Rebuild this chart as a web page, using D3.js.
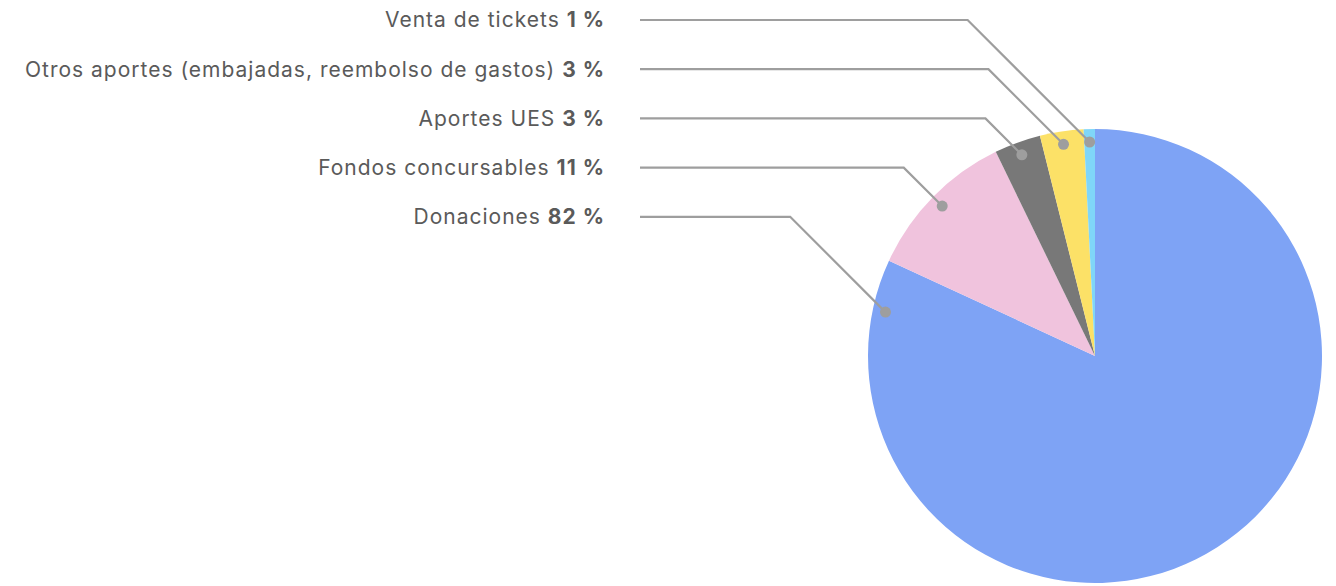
<!DOCTYPE html>
<html>
<head>
<meta charset="utf-8">
<script src="https://cdn.jsdelivr.net/npm/d3@7"></script>
<style>
    body { margin: 0; background: #fff; }
    svg { display: block; }
</style>
</head>
<body>
<div id="chart"></div>
<script>
// data
const categories = ["Donaciones", "Fondos concursables", "Aportes UES", "Otros aportes (embajadas, reembolso de gastos)", "Venta de tickets"];
const values = [81.9, 10.9, 3.3, 3.1, 0.8];
const pctLabels = ["82 %", "11 %", "3 %", "3 %", "1 %"];
const colors = ["#7ea3f5", "#f0c3dd", "#787878", "#fce167", "#7fd6f8"];

const width = 1336, height = 586;
const cx = 1095, cy = 356, radius = 227;

let svg = d3.select("#chart").append("svg")
    .attr("width", width)
    .attr("height", height);

let pie = d3.pie().sort(null).value(d => d.value);
let data = categories.map((c, i) => ({name: c, value: values[i], pct: pctLabels[i], color: colors[i]}));
let arcs = pie(data);

let arc = d3.arc().innerRadius(0).outerRadius(radius);

let g = svg.append("g").attr("transform", `translate(${cx},${cy})`);
g.selectAll("path.slice")
    .data(arcs)
    .join("path")
    .attr("class", "slice")
    .attr("d", arc)
    .attr("fill", d => d.data.color);

// label rows, top to bottom: last slice first
const labelRight = 605, lineStart = 640, rowTop = 20, rowStep = 49.2;
let rows = arcs.slice().reverse();

rows.forEach(function(d, i) {
    let ly = rowTop + i * rowStep;
    // anchor angle: middle of slice, big slice uses near its end
    let ang = (d.endAngle - d.startAngle) > Math.PI ? d.endAngle - 0.227 : (d.startAngle + d.endAngle) / 2;
    let r = radius * 0.943;
    let ax = cx + r * Math.sin(ang);
    let ay = cy - r * Math.cos(ang);
    let elbowX = ax - (ay - ly);

    svg.append("polyline")
        .attr("points", `${lineStart},${ly} ${elbowX},${ly} ${ax},${ay}`)
        .attr("fill", "none")
        .attr("stroke", "#9e9e9e")
        .attr("stroke-width", 2.2);
    svg.append("circle")
        .attr("cx", ax).attr("cy", ay).attr("r", 5.5)
        .attr("fill", "#9e9e9e");

    let t = svg.append("text")
        .attr("x", labelRight)
        .attr("y", ly)
        .attr("dy", "0.35em")
        .attr("text-anchor", "end")
        .attr("font-family", "Inter, 'Noto Sans', sans-serif")
        .attr("font-size", 21)
        .attr("letter-spacing", 1)
        .attr("fill", "#5a5a5a");
    t.append("tspan").text(d.data.name + " ");
    t.append("tspan").attr("font-weight", 700).text(d.data.pct);
});
</script>
</body>
</html>
